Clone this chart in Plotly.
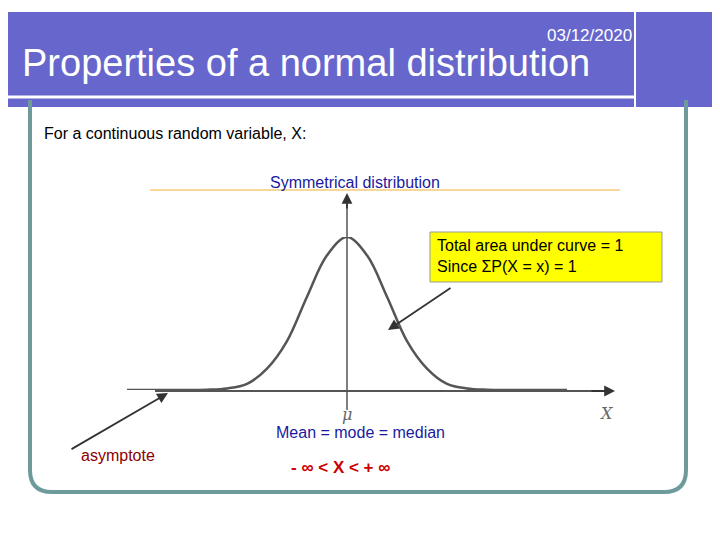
import plotly.graph_objects as go

# normal curve (standard units vs relative height)
z_vals = [-5.5, -4.5, -4.0, -3.5, -3.0, -2.5, -2.0, -1.5, -1.0, -0.5, 0.0,
          0.5, 1.0, 1.5, 2.0, 2.5, 3.0, 3.5, 4.0, 4.5, 5.5]
heights = [0.0, 0.0, 0.0, 0.002, 0.01, 0.04, 0.14, 0.32, 0.61, 0.88, 1.0,
           0.88, 0.61, 0.32, 0.14, 0.04, 0.01, 0.002, 0.0, 0.0, 0.0]

W, H = 720, 540
OFF = 8  # page offset seen in the render
fig = go.Figure()

fig.add_trace(go.Scatter(x=z_vals, y=heights, mode="lines", line=dict(color="#555555", width=2.5, shape="spline"),
                         xaxis="x2", yaxis="y2", showlegend=False, hoverinfo="skip"))

shapes = [
    dict(type="path", path="M 30,100 L 30,470 Q 30,492 52,492 L 664,492 Q 686,492 686,470 L 686,100",
         line=dict(color="#6e9a9c", width=4)),
    dict(type="rect", x0=0, y0=12, x1=720, y1=107, fillcolor="#6666cc", line=dict(width=0), layer="below"),
    dict(type="line", x0=0, y0=97, x1=635, y1=97, line=dict(color="white", width=3)),
    dict(type="line", x0=635, y0=12, x1=635, y1=107, line=dict(color="white", width=2)),
    dict(type="line", x0=150, y0=190, x1=620, y1=190, line=dict(color="#f0b030", width=1)),
    dict(type="line", x0=155, y0=391, x1=605, y1=391, line=dict(color="#555555", width=2)),
    dict(type="line", x0=347, y0=410, x1=347, y1=205, line=dict(color="#555555", width=1.5)),
    dict(type="rect", x0=430, y0=232, x1=662, y1=282, fillcolor="#ffff00", line=dict(color="#999999", width=1)),
]

anns = [
    dict(x=20, y=63, text="Properties of a normal distribution", font=dict(size=38, color="white", family="Liberation Sans"), xanchor="left"),
    dict(x=634, y=35, text="03/12/2020", font=dict(size=17, color="white", family="Liberation Sans"), xanchor="right"),
    dict(x=42, y=133, text="For a continuous random variable, X:", font=dict(size=16, color="black", family="Liberation Sans"), xanchor="left"),
    dict(x=355, y=182, text="Symmetrical distribution", font=dict(size=16, color="#1a1aa0", family="Liberation Sans")),
    dict(x=435, y=256, text="Total area under curve = 1<br>Since ΣP(X = x) = 1", align="left",
         font=dict(size=16, color="black", family="Liberation Sans"), xanchor="left"),
    dict(x=360, y=432, text="Mean = mode = median", font=dict(size=16, color="#1a1aa0", family="Liberation Sans")),
    dict(x=118, y=455, text="asymptote", font=dict(size=16, color="#8b0000", family="Liberation Sans")),
    dict(x=340, y=467, text="<b>- ∞ &lt; X &lt; + ∞</b>", font=dict(size=17, color="#cc0000", family="Liberation Sans")),
    dict(x=347, y=414, text="<i>μ</i>", font=dict(size=16, color="#666666", family="DejaVu Serif")),
    dict(x=606, y=413, text="<i>X</i>", font=dict(size=16, color="#666666", family="DejaVu Serif")),
]
for a in anns:
    a.update(xref="x", yref="y", showarrow=False)

arrows = [((452, 287), (388, 330)), ((70, 450), (168, 393)), ((590, 391), (615, 391)), ((347, 210), (347, 193))]
for (x0, y0), (x1, y1) in arrows:
    anns.append(dict(x=x1, y=y1, ax=x0, ay=y0, xref="x", yref="y", axref="x", ayref="y", text="",
                     showarrow=True, arrowhead=2, arrowsize=1.2, arrowwidth=1.8, arrowcolor="#333333"))

x_lo, x_hi = 127, 567  # curve span in slide pixels
fig.update_layout(
    width=W, height=H, margin=dict(l=0, r=0, t=0, b=0),
    paper_bgcolor="white", plot_bgcolor="white",
    xaxis=dict(range=[OFF, W + OFF], visible=False, domain=[0, 1]),
    yaxis=dict(range=[H + OFF, OFF], visible=False, domain=[0, 1]),
    xaxis2=dict(range=[-5.5, 5.5], visible=False, domain=[(x_lo - OFF) / W, (x_hi - OFF) / W], anchor="y2"),
    yaxis2=dict(range=[0, 1], visible=False, domain=[(H - 390 + OFF) / H, (H - 237 + OFF) / H], anchor="x2"),
    shapes=[dict(s, xref="x", yref="y") for s in shapes],
    annotations=anns,
)
fig.add_trace(go.Scatter(x=[OFF + 1], y=[OFF + 1], mode="markers", marker=dict(opacity=0), showlegend=False, hoverinfo="skip"))

fig.write_html("out.html")
